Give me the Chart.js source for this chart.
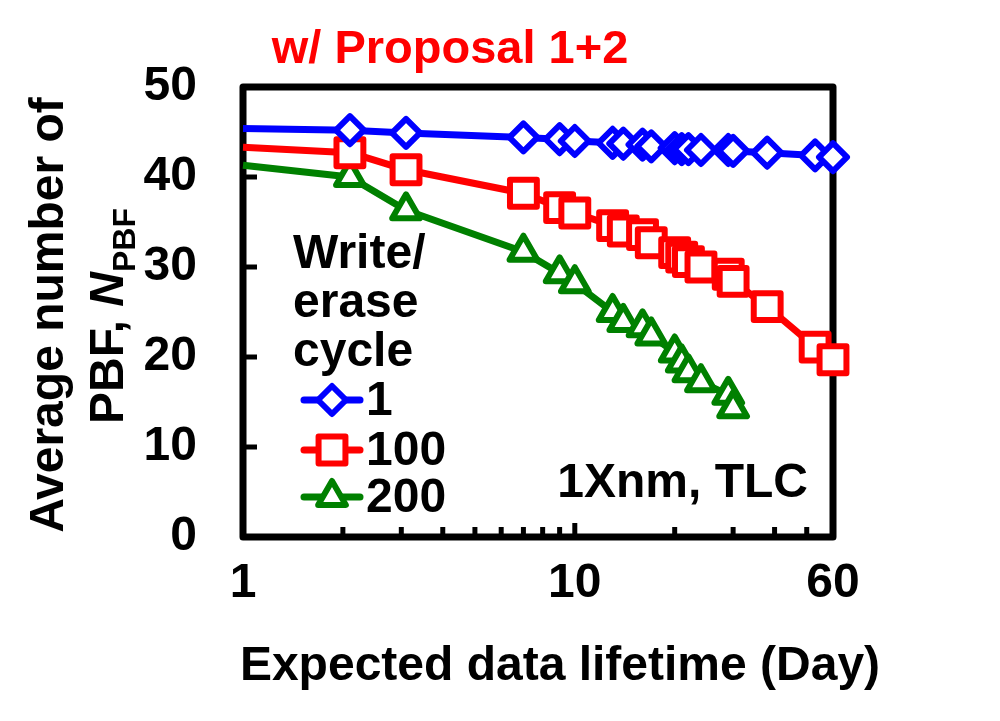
<!DOCTYPE html>
<html>
<head>
<meta charset="utf-8">
<script src="https://cdn.jsdelivr.net/npm/chart.js@4.4.1/dist/chart.umd.min.js"></script>
<style>
  html, body { margin: 0; padding: 0; background: #fff; }
  #wrap { width: 1000px; height: 721px; }
</style>
</head>
<body>
<div id="wrap"><canvas id="pbfChart" width="1000" height="721"></canvas></div>
<script>
// Expected data lifetime (days), shared by all three series
const days = [1, 2.1, 3.1, 7, 9, 10, 13, 14, 16, 17, 20, 21, 22, 24, 29, 30, 38, 53, 60];

// Average number of PBF for each write/erase cycle count
const cycle1 = [45.4, 45.2, 44.9, 44.4, 44.2, 44.0, 43.8, 43.7, 43.6, 43.4, 43.2, 43.1, 43.1, 43.0, 43.0, 42.9, 42.7, 42.4, 42.2];
const cycle100 = [43.3, 42.7, 40.8, 38.2, 36.6, 36.0, 34.6, 34.0, 33.6, 32.7, 31.6, 31.1, 30.6, 30.0, 29.2, 28.4, 25.6, 21.1, 19.7];
const cycle200 = [41.3, 40.0, 36.3, 31.7, 29.3, 28.2, 25.0, 23.9, 23.3, 22.4, 20.5, 19.4, 18.3, 17.2, 15.8, 14.3, null, null, null];

const seriesLabels = ['1', '100', '200'];
const xTickValues = [1, 10, 60];
const xMinorTicks = [2, 3, 4, 5, 6, 7, 8, 9, 20, 30, 40, 50];
const yTickValues = [10, 20, 30, 40];

const FONT = '"Liberation Sans", Arial, sans-serif';

const styles = [
    { color: '#0000ff', pointStyle: 'rectRot', radius: 14 },
    { color: '#ff0000', pointStyle: 'rect', radius: 19 },
    { color: '#008000', pointStyle: 'triangle', radius: 16 }
];

function toPoints(values) {
    return days.map((d, i) => ({ x: d, y: values[i] }));
}

function makeDataset(label, values, st) {
    return {
        label: label,
        data: toPoints(values),
        borderColor: st.color,
        backgroundColor: '#ffffff',
        borderWidth: 7,
        borderJoinStyle: 'round',
        pointStyle: st.pointStyle,
        pointRadius: ctx => ctx.dataIndex === 0 ? 0 : st.radius,
        pointBorderWidth: 6,
        pointBackgroundColor: '#ffffff',
        pointBorderColor: st.color,
        clip: false,
        tension: 0
    };
}

// frame, inward ticks, titles and the in-plot legend
const decorations = {
    id: 'decorations',
    beforeDatasetsDraw(chart) {
        const ctx = chart.ctx;
        const a = chart.chartArea;
        const xs = chart.scales.x;
        const ys = chart.scales.y;
        ctx.save();
        ctx.strokeStyle = '#000';
        ctx.lineCap = 'butt';
        ctx.lineWidth = 5;
        yTickValues.forEach(v => {
            const py = ys.getPixelForValue(v);
            ctx.beginPath();
            ctx.moveTo(a.left, py);
            ctx.lineTo(a.left + 14, py);
            ctx.stroke();
        });
        xMinorTicks.forEach(v => {
            const px = xs.getPixelForValue(v);
            ctx.beginPath();
            ctx.moveTo(px, a.bottom);
            ctx.lineTo(px, a.bottom - 10);
            ctx.stroke();
        });
        const p10 = xs.getPixelForValue(10);
        ctx.beginPath();
        ctx.moveTo(p10, a.bottom);
        ctx.lineTo(p10, a.bottom - 14);
        ctx.stroke();

        ctx.lineWidth = 7;
        ctx.lineJoin = 'round';
        ctx.strokeRect(a.left, a.top, a.right - a.left, a.bottom - a.top);
        ctx.restore();
        // round joins for the markers as well
        ctx.lineJoin = 'round';
    },
    afterDraw(chart) {
        const ctx = chart.ctx;
        ctx.save();
        ctx.fillStyle = '#000';
        ctx.textBaseline = 'alphabetic';

        // top title
        ctx.fillStyle = '#ff0000';
        ctx.font = 'bold 47px ' + FONT;
        ctx.textAlign = 'center';
        ctx.fillText('w/ Proposal 1+2', 450, 63);

        // x axis title
        ctx.fillStyle = '#000';
        ctx.font = 'bold 48px ' + FONT;
        ctx.fillText('Expected data lifetime (Day)', 560, 680);

        // annotation
        ctx.textAlign = 'right';
        ctx.fillText('1Xnm, TLC', 808, 497);

        // y axis title (two rotated lines)
        ctx.save();
        ctx.translate(63, 315);
        ctx.rotate(-Math.PI / 2);
        ctx.textAlign = 'center';
        ctx.fillText('Average number of', 0, 0);
        ctx.restore();

        ctx.save();
        ctx.translate(123, 316);
        ctx.rotate(-Math.PI / 2);
        ctx.textAlign = 'left';
        const part1 = 'PBF, ';
        const fN = 'italic bold 48px ' + FONT;
        const fSub = 'bold 32px ' + FONT;
        ctx.font = 'bold 48px ' + FONT;
        const w1 = ctx.measureText(part1).width;
        ctx.font = fN;
        const w2 = ctx.measureText('N').width;
        ctx.font = fSub;
        const w3 = ctx.measureText('PBF').width;
        let x0 = -(w1 + w2 + w3) / 2;
        ctx.font = 'bold 48px ' + FONT;
        ctx.fillText(part1, x0, 0);
        x0 += w1;
        ctx.font = fN;
        ctx.fillText('N', x0, 0);
        x0 += w2;
        ctx.font = fSub;
        ctx.fillText('PBF', x0, 12);
        ctx.restore();

        // legend
        ctx.font = 'bold 48px ' + FONT;
        ctx.textAlign = 'left';
        ctx.fillText('Write/', 293, 268);
        ctx.fillText('erase', 293, 317);
        ctx.fillText('cycle', 293, 366);

        const rows = [400, 450, 497];
        seriesLabels.forEach((lab, i) => {
            const st = styles[i];
            const y = rows[i];
            ctx.strokeStyle = st.color;
            ctx.lineWidth = 7;
            ctx.lineCap = 'round';
            ctx.beginPath();
            ctx.moveTo(304, y);
            ctx.lineTo(360, y);
            ctx.stroke();
            ctx.lineJoin = 'round';
            ctx.lineWidth = 6;
            ctx.fillStyle = '#fff';
            Chart.helpers.drawPoint(ctx, {
                pointStyle: st.pointStyle,
                radius: st.radius,
                rotation: 0,
                borderWidth: 6
            }, 332, y);
            ctx.fillStyle = '#000';
            ctx.textBaseline = 'middle';
            ctx.fillText(lab, 366, y + 2);
            ctx.textBaseline = 'alphabetic';
        });
        ctx.restore();
    }
};

const ctx = document.getElementById('pbfChart').getContext('2d');
const pbfChart = new Chart(ctx, {
    type: 'line',
    data: {
        datasets: [
            makeDataset(seriesLabels[0], cycle1, styles[0]),
            makeDataset(seriesLabels[1], cycle100, styles[1]),
            makeDataset(seriesLabels[2], cycle200, styles[2])
        ]
    },
    options: {
        responsive: false,
        animation: false,
        devicePixelRatio: 1,
        layout: { padding: { top: 87, right: 167, left: 0, bottom: 0 } },
        plugins: {
            legend: { display: false },
            title: { display: false },
            tooltip: { enabled: false }
        },
        scales: {
            x: {
                type: 'logarithmic',
                min: 1,
                max: 60,
                afterBuildTicks: s => { s.ticks = xTickValues.map(v => ({ value: v })); },
                afterFit: s => { s.height = 721 - 537; },
                grid: { display: false, drawTicks: false },
                border: { display: false },
                ticks: {
                    autoSkip: false,
                    maxRotation: 0,
                    padding: 18,
                    color: '#000',
                    font: { family: FONT, size: 48, weight: 'bold' },
                    callback: v => String(v)
                }
            },
            y: {
                min: 0,
                max: 50,
                afterFit: s => { s.width = 243; },
                grid: { display: false, drawTicks: false },
                border: { display: false },
                ticks: {
                    stepSize: 10,
                    padding: 46,
                    color: '#000',
                    font: { family: FONT, size: 48, weight: 'bold' }
                }
            }
        }
    },
    plugins: [decorations]
});
</script>
</body>
</html>
